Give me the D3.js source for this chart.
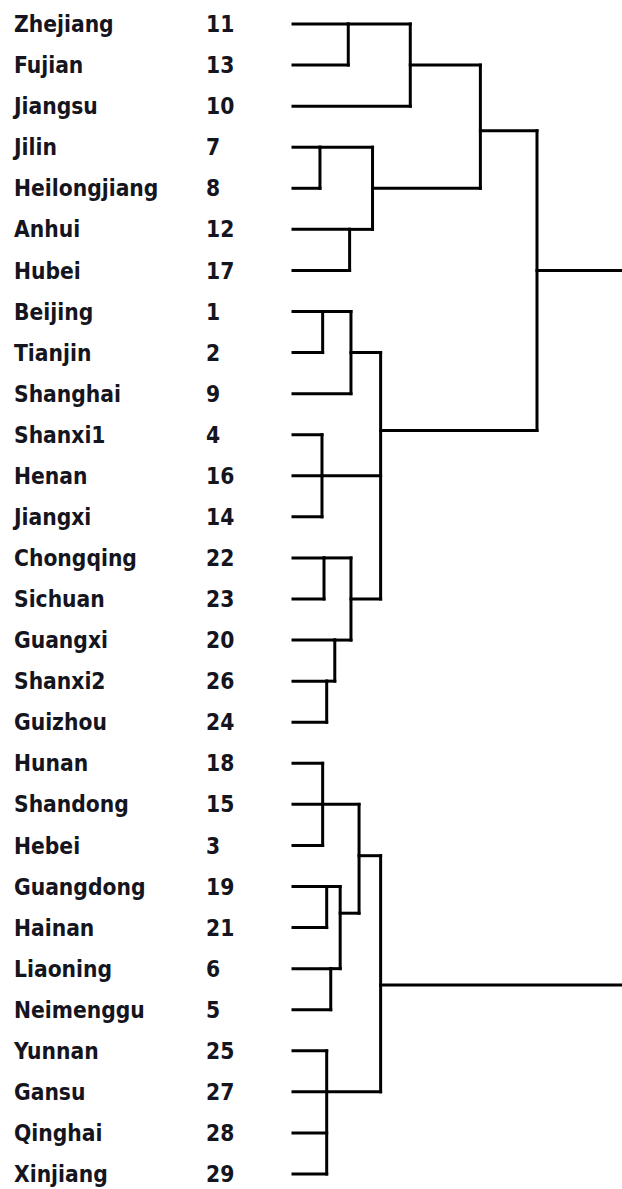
<!DOCTYPE html>
<html>
<head>
<meta charset="utf-8">
<script src="https://cdn.jsdelivr.net/npm/d3@7"></script>
<style>
  html, body { margin: 0; padding: 0; background: #fff; }
  svg { display: block; }
  text { font-family: "DejaVu Sans Condensed", "DejaVu Sans", sans-serif; font-weight: bold; fill: #151520; }
</style>
</head>
<body>
<svg id="chart" width="622" height="1189"></svg>
<script>
// ---- data ----
const leafNames = ["Zhejiang","Fujian","Jiangsu","Jilin","Heilongjiang","Anhui","Hubei",
  "Beijing","Tianjin","Shanghai","Shanxi1","Henan","Jiangxi","Chongqing","Sichuan",
  "Guangxi","Shanxi2","Guizhou","Hunan","Shandong","Hebei","Guangdong","Hainan",
  "Liaoning","Neimenggu","Yunnan","Gansu","Qinghai","Xinjiang"];
const leafCodes = [11,13,10,7,8,12,17,1,2,9,4,16,14,22,23,20,26,24,18,15,3,19,21,6,5,25,27,28,29];

// merge steps: id, members, rescaled distance, row position of the outgoing branch
const mergeIds = ["N1","N2","N3","N4","N5","N6","N8","N9","N10","N11","N12","N13","N14","N15","N7",
  "N16","N17","N18","N19","N20","N21","N22","Root"];
const mergeChildren = [
  ["Zhejiang","Fujian"], ["N1","Jiangsu"], ["Jilin","Heilongjiang"], ["Anhui","Hubei"],
  ["N3","N4"], ["N2","N5"], ["Beijing","Tianjin"], ["N8","Shanghai"],
  ["Shanxi1","Henan","Jiangxi"], ["Chongqing","Sichuan"], ["Shanxi2","Guizhou"],
  ["Guangxi","N12"], ["N11","N13"], ["N9","N10","N14"], ["N6","N15"],
  ["Hunan","Shandong","Hebei"], ["Guangdong","Hainan"], ["Liaoning","Neimenggu"],
  ["N17","N18"], ["N16","N19"], ["Yunnan","Gansu","Qinghai","Xinjiang"], ["N20","N21"],
  ["N7","N22"]];
const mergeHeights = [4.1, 8.7, 2.0, 4.2, 5.9, 13.9, 2.2, 4.3, 2.15, 2.3, 2.5, 3.1, 4.3, 6.5, 18.1,
  2.2, 2.5, 2.8, 3.5, 4.9, 2.5, 6.5, 25];
const mergeAnchors = [0, 1, 3, 5, 4, 2.6, 7, 8, 11, 13, 16, 15, 14, 9.9, 6,
  19, 21, 23, 21.65, 20.25, 26, 23.4, 14.7];

// ---- build ----
const nodeInfo = new Map();
leafNames.forEach((n, i) => nodeInfo.set(n, { height: 0, anchor: i }));
mergeIds.forEach((id, i) => nodeInfo.set(id, { height: mergeHeights[i], anchor: mergeAnchors[i] }));

const svg = d3.select("#chart");
const y = d3.scaleLinear().domain([0, leafNames.length - 1]).range([24, 1174]);
const x = d3.scaleLinear().domain([0, 25]).range([293, 630]);

// labels
svg.append("g").selectAll("text.name").data(leafNames).join("text")
  .attr("class", "name")
  .attr("x", 14).attr("y", (d, i) => y(i)).attr("dy", "0.36em")
  .attr("font-size", 22.6).text(d => d);
svg.append("g").selectAll("text.code").data(leafCodes).join("text")
  .attr("class", "code")
  .attr("x", 206).attr("y", (d, i) => y(i)).attr("dy", "0.36em")
  .attr("font-size", 22.6).text(d => d);

// tree lines
const segs = [];
mergeIds.forEach((id, i) => {
  const hx = x(mergeHeights[i]);
  const kids = mergeChildren[i].map(c => nodeInfo.get(c));
  const ys = kids.map(k => y(k.anchor));
  segs.push([[hx, d3.min(ys)], [hx, d3.max(ys)]]);
  kids.forEach(k => segs.push([[x(k.height), y(k.anchor)], [hx, y(k.anchor)]]));
});
const line = d3.line();
svg.append("g").selectAll("path").data(segs).join("path")
  .attr("d", line)
  .attr("fill", "none").attr("stroke", "#000")
  .attr("stroke-width", 3).attr("stroke-linecap", "square");
</script>
</body>
</html>
